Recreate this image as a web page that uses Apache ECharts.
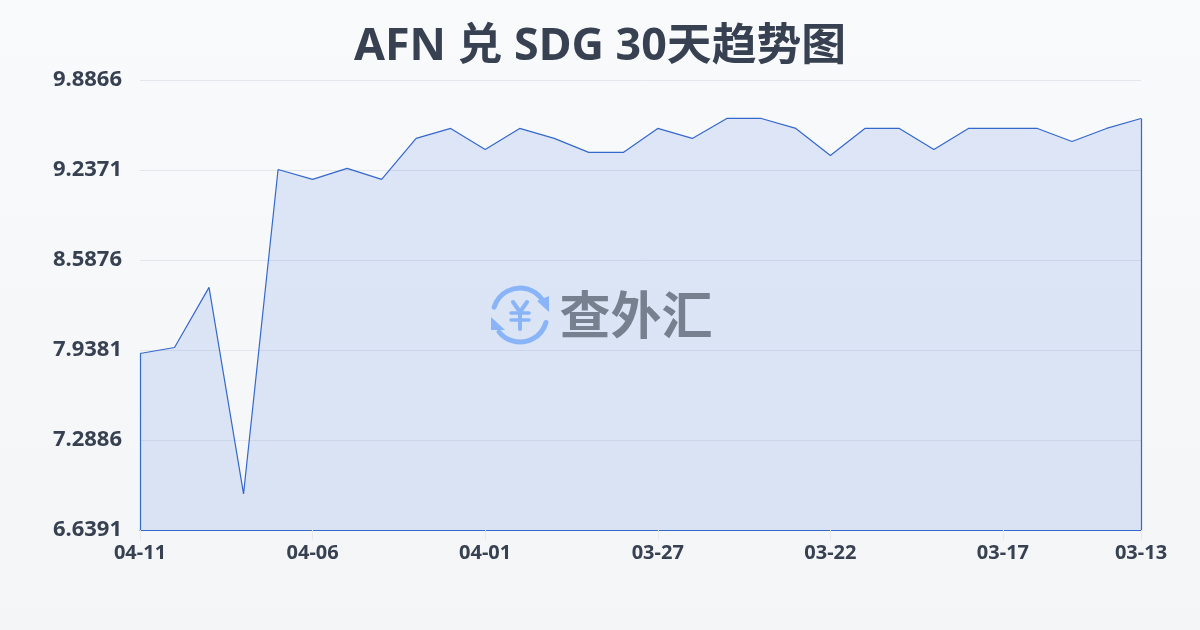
<!DOCTYPE html>
<html><head><meta charset="utf-8">
<style>html,body{margin:0;padding:0;width:1200px;height:630px;overflow:hidden}#c{width:1200px;height:630px}</style>
<script src="https://cdn.jsdelivr.net/npm/echarts@6/dist/echarts.min.js"></script>
</head><body><div id="c"></div>
<script>
const titleText = 'AFN 兑 SDG 30天趋势图';
const watermarkText = '查外汇';
const categories = ['04-11','04-10','04-09','04-08','04-07','04-06','04-05','04-04','04-03','04-02','04-01','03-31','03-30','03-29','03-28','03-27','03-26','03-25','03-24','03-23','03-22','03-21','03-20','03-19','03-18','03-17','03-16','03-15','03-14','03-13'];
const rates = [7.9130,7.9560,8.3900,6.9000,9.2410,9.1690,9.2490,9.1690,9.4650,9.5370,9.3850,9.5370,9.4650,9.3640,9.3640,9.5370,9.4650,9.6090,9.6090,9.5370,9.3420,9.5370,9.5370,9.3850,9.5370,9.5370,9.5370,9.4430,9.5370,9.6090];
const yMin = 6.6391, yMax = 9.8866, yStep = 0.6495;
const labelStep = 5;

const FONT = '"Noto Sans","Noto Sans CJK SC",sans-serif';
const TEXT = '#374151', LINE = '#3568cc', ICON = '#8ab4f8';
const last = categories.length - 1;
const showLabel = i => i % labelStep === 0 && i <= last - labelStep + 1 || i === last;
const stroke = (shape, type, w) => ({type, shape, silent:true, z:100, style:{stroke:ICON, fill:null, lineWidth:w, lineCap:'round', lineJoin:'round'}});
const tri = pts => ({type:'polygon', shape:{points:pts}, silent:true, z:100, style:{fill:ICON}});

const chart = echarts.init(document.getElementById('c'), null, {renderer:'canvas'});
chart.setOption({
  animation:false,
  backgroundColor:new echarts.graphic.LinearGradient(0,0,0,1,[{offset:0,color:'#f9fafc'},{offset:1,color:'#f3f5f7'}]),
  title:{text:titleText,left:'center',top:20,textStyle:{fontFamily:FONT,fontSize:44.8,fontWeight:'bold',color:TEXT}},
  grid:{left:140,right:59,top:80,bottom:100},
  xAxis:{type:'category',data:categories,boundaryGap:false,
    axisLine:{show:true,lineStyle:{color:LINE,width:1.2}},
    axisTick:{show:true,length:10,interval:(i)=>showLabel(i),lineStyle:{color:'#e6e8ee'}},
    axisLabel:{interval:(i)=>showLabel(i),showMinLabel:true,showMaxLabel:true,fontFamily:FONT,fontSize:20,fontWeight:'bold',color:TEXT,margin:13}},
  yAxis:{type:'value',min:yMin,max:yMax,interval:yStep,
    axisLine:{show:false},axisTick:{show:false},
    splitLine:{show:true,lineStyle:{color:'#e3e6ec',width:1}},
    axisLabel:{formatter:v=>v.toFixed(4),fontFamily:FONT,fontSize:22,fontWeight:'bold',color:TEXT,margin:18}},
  series:[{type:'line',data:rates,symbol:'none',smooth:false,
    lineStyle:{color:LINE,width:1.2},
    areaStyle:{color:'rgba(58,111,220,0.2)',origin:'start'},
    markLine:{silent:true,symbol:'none',label:{show:false},lineStyle:{color:LINE,width:1.2,type:'solid'},
      data:[
        [{coord:[categories[0],yMin]},{coord:[categories[0],rates[0]]}],
        [{coord:[categories[last],yMin]},{coord:[categories[last],rates[last]]}]
      ]}}],
  graphic:[
    stroke({cx:520,cy:315,r:27,startAngle:197*Math.PI/180,endAngle:326*Math.PI/180,clockwise:true},'arc',5),
    stroke({cx:520,cy:315,r:27,startAngle:16*Math.PI/180,endAngle:141*Math.PI/180,clockwise:true},'arc',5),
    tri([[537,301],[549,296],[549,312]]),
    tri([[491,317],[505,330],[491,330]]),
    stroke({points:[[513,302],[520,312],[527,302]]},'polyline',4),
    stroke({x1:511,y1:313,x2:529,y2:313},'line',3.5),
    stroke({x1:511,y1:320,x2:529,y2:320},'line',3.5),
    stroke({x1:520,y1:312,x2:520,y2:329},'line',4),
    {type:'text',x:636,y:315,silent:true,z:100,style:{text:watermarkText,fill:'#76808f',font:'bold 51px "Noto Sans CJK SC",sans-serif',textAlign:'center',textVerticalAlign:'middle'}}
  ]
});
</script></body></html>
